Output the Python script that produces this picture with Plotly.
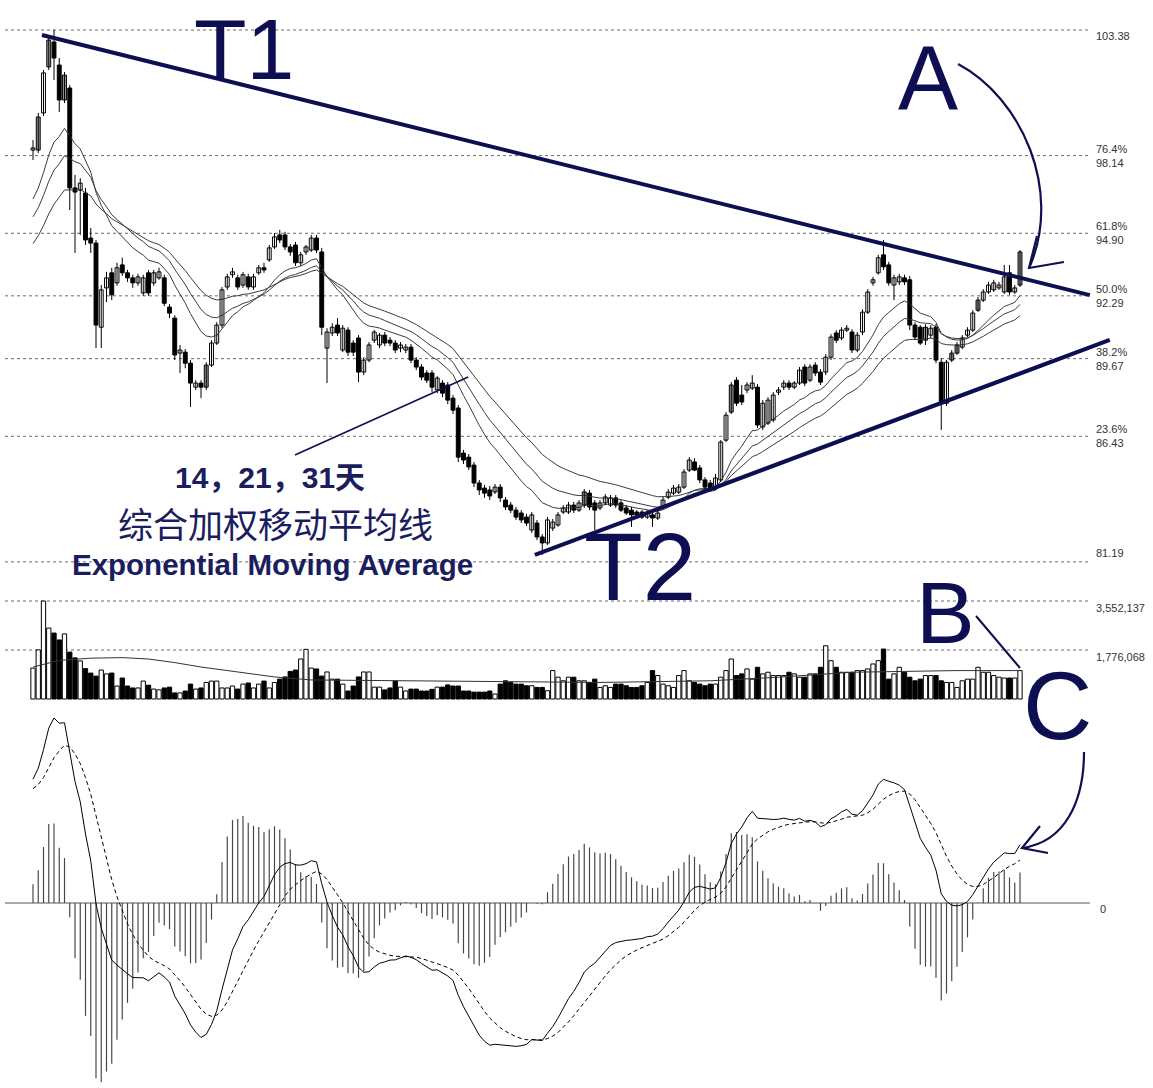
import plotly.graph_objects as go

W, H = 1153, 1088

# ---------------- data ----------------
open_ = [98.37, 98.37, 99.92, 101.84, 102.88, 101.92, 100.46, 100.96, 96.79, 96.70,
         96.58, 94.70, 94.49, 90.98, 92.62, 93.25, 92.83, 93.58, 93.25, 93.04,
         92.83, 92.41, 93.25, 92.83, 93.04, 93.04, 91.82, 91.36, 89.90, 89.94,
         89.48, 88.48, 88.65, 88.48, 89.40, 90.32, 91.07, 92.66, 93.17, 93.04,
         92.74, 93.08, 92.66, 93.25, 93.46, 93.79, 94.33, 94.83, 94.83, 94.33,
         94.41, 93.67, 94.12, 94.20, 94.70, 94.12, 90.11, 90.74, 91.07, 90.03,
         90.86, 90.32, 90.53, 89.11, 89.61, 90.44, 90.24, 90.65, 90.44, 90.32,
         90.11, 90.03, 90.15, 89.61, 89.32, 89.07, 89.07, 88.36, 88.65, 88.57,
         88.02, 87.61, 85.73, 85.56, 85.23, 84.48, 84.27, 84.19, 84.11, 84.31,
         83.77, 83.56, 83.35, 83.23, 83.06, 82.52, 82.81, 82.23, 81.98, 82.60,
         82.73, 83.27, 83.27, 83.56, 83.35, 83.56, 84.06, 83.65, 83.44, 83.65,
         83.56, 83.86, 83.65, 83.44, 83.35, 83.27, 83.27, 83.06, 83.15, 83.02,
         83.48, 83.89, 84.06, 84.10, 84.31, 85.02, 85.36, 85.11, 84.61, 84.48,
         84.31, 84.61, 86.27, 87.44, 88.77, 88.15, 88.36, 88.44, 88.48, 86.82,
         86.98, 87.11, 88.27, 88.48, 88.65, 88.48, 88.65, 89.32, 88.77, 89.40,
         89.11, 89.11, 89.73, 90.74, 90.53, 90.86, 90.78, 90.03, 90.78, 91.61,
         92.83, 93.25, 94.00, 93.58, 92.74, 92.87, 93.04, 92.96, 91.07, 90.98,
         90.44, 90.65, 90.98, 89.52, 87.81, 89.61, 89.90, 90.15, 90.65, 90.86,
         91.69, 92.11, 92.45, 92.54, 92.62, 92.45, 93.25, 92.45, 92.74]

close = [98.46, 99.75, 101.59, 102.96, 102.21, 100.46, 101.50, 96.79, 96.62, 96.99,
         94.62, 94.49, 91.07, 92.54, 93.04, 92.33, 93.46, 93.25, 93.04, 92.83,
         93.08, 93.04, 92.41, 93.25, 93.29, 91.98, 91.57, 89.82, 90.03, 89.48,
         88.65, 88.65, 88.48, 89.40, 90.32, 91.07, 92.54, 93.08, 93.29, 92.66,
         93.17, 92.66, 93.08, 93.46, 93.37, 94.29, 94.75, 94.62, 94.33, 94.12,
         93.67, 94.00, 94.33, 94.70, 94.20, 90.98, 90.78, 90.98, 90.74, 90.94,
         89.94, 89.94, 89.11, 89.61, 90.24, 90.78, 90.65, 90.32, 90.32, 90.03,
         90.24, 90.15, 89.61, 89.32, 88.90, 88.77, 88.48, 88.86, 88.23, 87.94,
         87.52, 85.56, 85.44, 85.15, 84.48, 84.19, 84.06, 83.94, 84.31, 83.86,
         83.48, 83.35, 83.06, 82.94, 82.81, 83.15, 82.23, 81.98, 82.94, 82.85,
         83.15, 83.44, 83.56, 83.35, 83.65, 84.11, 83.48, 83.35, 83.65, 83.90,
         83.86, 83.56, 83.35, 83.23, 83.15, 83.15, 83.06, 83.23, 83.02, 83.23,
         83.77, 84.10, 84.27, 84.31, 84.94, 85.44, 85.02, 84.61, 84.31, 84.27,
         84.69, 86.19, 87.31, 88.57, 87.81, 87.86, 88.57, 88.65, 86.90, 87.81,
         87.94, 88.15, 88.36, 88.65, 88.48, 88.65, 89.19, 88.65, 89.32, 89.07,
         88.69, 89.73, 90.57, 90.44, 90.86, 90.94, 90.03, 90.65, 91.61, 92.45,
         92.96, 93.88, 93.50, 92.83, 93.04, 93.08, 92.87, 91.07, 90.57, 90.32,
         90.98, 90.94, 89.61, 87.81, 89.52, 89.90, 90.24, 90.53, 90.86, 91.57,
         92.11, 92.45, 92.74, 92.83, 92.74, 93.08, 92.45, 92.62, 94.12]

high = [98.79, 99.92, 101.71, 103.17, 103.38, 102.21, 101.63, 101.08, 97.33, 97.20,
        96.79, 95.12, 94.62, 92.74, 93.29, 93.46, 93.67, 93.88, 93.37, 93.17,
        93.21, 93.17, 93.37, 93.37, 93.46, 93.17, 91.94, 91.48, 90.24, 90.07,
        89.61, 88.77, 88.77, 89.52, 90.44, 91.19, 92.66, 93.21, 93.46, 93.17,
        93.29, 93.21, 93.21, 93.58, 93.67, 94.41, 94.91, 95.04, 94.96, 94.45,
        94.54, 94.12, 94.41, 94.83, 94.83, 94.29, 90.94, 91.15, 91.36, 91.07,
        90.98, 90.44, 90.65, 89.73, 90.36, 90.86, 90.74, 90.78, 90.57, 90.44,
        90.36, 90.28, 90.28, 89.73, 89.44, 89.19, 89.19, 88.94, 88.77, 88.69,
        88.15, 87.73, 85.86, 85.69, 85.36, 84.61, 84.40, 84.36, 84.44, 84.44,
        83.90, 83.69, 83.48, 83.35, 83.19, 83.27, 82.94, 82.35, 83.06, 82.98,
        83.27, 83.56, 83.69, 83.69, 83.77, 84.23, 84.19, 83.77, 83.77, 84.02,
        83.98, 83.98, 83.77, 83.56, 83.48, 83.35, 83.35, 83.35, 83.27, 83.35,
        83.90, 84.23, 84.40, 84.44, 85.06, 85.56, 85.52, 85.23, 84.73, 84.61,
        84.86, 86.27, 87.44, 88.69, 88.90, 88.57, 88.69, 88.98, 88.61, 87.94,
        88.06, 88.27, 88.48, 88.77, 88.77, 88.73, 89.32, 89.44, 89.44, 89.52,
        89.23, 89.86, 90.69, 90.86, 90.98, 91.07, 90.90, 90.78, 91.73, 92.57,
        93.08, 94.00, 94.62, 93.71, 93.17, 93.21, 93.17, 93.12, 91.19, 91.07,
        91.11, 91.07, 91.11, 89.69, 89.61, 90.03, 90.36, 90.65, 90.98, 91.69,
        92.24, 92.57, 92.87, 92.96, 92.87, 93.58, 93.58, 92.74, 94.20]

low = [97.96, 98.25, 99.79, 101.71, 101.29, 99.96, 100.33, 95.87, 94.08, 94.83,
       94.41, 94.08, 90.11, 90.11, 92.03, 92.11, 92.71, 93.12, 92.87, 92.62,
       92.71, 92.29, 92.29, 92.71, 92.96, 91.86, 91.36, 89.61, 89.07, 89.27,
       87.65, 88.36, 88.02, 88.36, 89.32, 90.24, 90.94, 92.54, 93.04, 92.54,
       92.62, 92.54, 92.54, 93.17, 93.25, 93.71, 94.25, 94.49, 94.20, 93.96,
       93.54, 93.54, 94.00, 94.12, 94.08, 90.65, 88.65, 90.61, 90.61, 89.94,
       89.78, 89.78, 88.69, 88.98, 89.52, 90.32, 90.11, 90.19, 90.19, 89.90,
       89.94, 89.90, 89.48, 89.19, 88.77, 88.65, 88.27, 88.23, 88.06, 87.77,
       87.36, 85.36, 85.27, 85.02, 84.31, 83.98, 83.86, 83.77, 84.02, 83.69,
       83.35, 83.23, 82.94, 82.81, 82.69, 82.40, 82.10, 81.48, 81.90, 82.48,
       82.65, 83.19, 83.19, 83.23, 83.27, 83.44, 83.35, 82.52, 83.35, 83.56,
       83.48, 83.44, 83.27, 83.15, 82.65, 83.06, 82.98, 82.98, 82.65, 82.94,
       83.40, 83.81, 83.98, 84.02, 84.23, 84.94, 84.98, 84.48, 84.19, 84.15,
       84.19, 84.52, 86.19, 87.36, 87.69, 87.73, 88.23, 88.36, 86.77, 86.69,
       86.90, 87.02, 88.15, 88.36, 88.36, 88.40, 88.57, 88.52, 88.69, 88.94,
       88.57, 88.98, 89.61, 90.32, 90.44, 90.78, 89.90, 89.94, 90.65, 91.53,
       92.71, 93.17, 93.37, 92.71, 92.11, 92.74, 92.74, 90.86, 90.44, 90.24,
       90.24, 90.53, 89.48, 86.69, 87.69, 89.52, 89.82, 90.07, 90.57, 90.78,
       91.61, 92.03, 92.37, 92.45, 92.54, 92.37, 92.33, 92.37, 92.66]

gray_days = [1, 3, 6, 33, 105, 133, 170, 175, 176, 180, 188]

volume_m = [1.12, 1.78, 3.55, 2.57, 2.39, 2.14, 2.36, 1.70, 1.49, 1.38,
            1.10, 0.94, 0.83, 1.05, 0.91, 0.94, 0.47, 0.76, 0.47, 0.40,
            0.40, 0.65, 0.50, 0.36, 0.33, 0.40, 0.43, 0.22, 0.22, 0.29,
            0.54, 0.36, 0.40, 0.60, 0.65, 0.65, 0.40, 0.40, 0.47, 0.36,
            0.54, 0.58, 0.40, 0.54, 0.65, 0.40, 0.60, 0.72, 0.80, 1.00,
            1.05, 1.45, 1.80, 1.12, 1.09, 0.83, 0.98, 0.72, 0.72, 0.54,
            0.29, 0.47, 0.80, 0.98, 0.98, 0.43, 0.43, 0.33, 0.40, 0.65,
            0.43, 0.29, 0.36, 0.36, 0.29, 0.29, 0.35, 0.43, 0.43, 0.51,
            0.47, 0.47, 0.29, 0.29, 0.25, 0.25, 0.25, 0.29, 0.18, 0.54,
            0.66, 0.60, 0.54, 0.54, 0.48, 0.48, 0.42, 0.42, 0.30, 1.03,
            0.79, 0.66, 0.79, 0.79, 0.66, 0.66, 0.60, 0.72, 0.42, 0.48,
            0.42, 0.54, 0.54, 0.48, 0.42, 0.42, 0.48, 0.60, 1.03, 0.85,
            0.54, 0.48, 0.42, 0.85, 1.03, 0.66, 0.60, 0.54, 0.48, 0.54,
            0.54, 0.79, 1.03, 1.45, 0.85, 0.91, 1.09, 0.72, 1.15, 0.91,
            0.97, 0.85, 0.85, 0.85, 0.97, 0.91, 0.79, 0.79, 0.91, 0.91,
            1.15, 1.93, 1.39, 1.15, 0.97, 0.97, 0.97, 1.03, 1.03, 1.09,
            1.27, 1.39, 1.81, 0.72, 0.91, 1.15, 0.97, 0.79, 0.66, 0.72,
            0.85, 0.85, 0.85, 0.66, 0.60, 0.60, 0.42, 0.66, 0.72, 0.72,
            1.15, 0.97, 0.97, 0.85, 0.79, 0.76, 0.76, 0.76, 1.03]

vol_ma_day = [0, 5, 11, 17, 22, 27, 32, 41, 46, 53, 70, 89, 108, 129, 142, 156, 176, 188]
vol_ma_m = [1.16, 1.40, 1.48, 1.50, 1.45, 1.32, 1.16, 0.94, 0.80, 0.69, 0.66, 0.62, 0.60, 0.66, 0.79, 0.97, 1.03, 1.03]

ema_periods = [14, 21, 31]
ema_seeds = [96.0, 95.3, 94.2]          # EMA values just before the first visible day
macd_seeds = [96.2, 94.7, 1.42]         # EMA12, EMA26, DEA before the first visible day

fib_levels = [103.38, 98.14, 94.90, 92.29, 89.67, 86.43, 81.19]
fib_labels = ["103.38", "76.4%<br>98.14", "61.8%<br>94.90", "50.0%<br>92.29",
              "38.2%<br>89.67", "23.6%<br>86.43", "81.19"]
vol_levels = [3552137, 1776068]
vol_labels = ["3,552,137", "1,776,068"]

t1_days, t1_price = [1.7, 201.3], [103.17, 92.32]
t2_days, t2_price = [95.6, 205.1], [81.48, 90.45]
ptr_days, ptr_price = [49.9, 82.9], [85.65, 88.90]

n = len(close)
assert len(open_) == n and len(high) == n and len(low) == n and len(volume_m) == n
days = list(range(n))

# ---------------- derived indicators ----------------
def ema(vals, period, seed):
    a = 2.0 / (period + 1)
    e = seed
    out = []
    for v in vals:
        e += a * (v - e)
        out.append(e)
    return out

ema_lines = [ema(close, p, s) for p, s in zip(ema_periods, ema_seeds)]
e12 = ema(close, 12, macd_seeds[0])
e26 = ema(close, 26, macd_seeds[1])
dif = [a - b for a, b in zip(e12, e26)]
dea = ema(dif, 9, macd_seeds[2])
hist = [2 * (a - b) for a, b in zip(dif, dea)]

# ---------------- layout geometry ----------------
X0, DX = 33.0, 5.25                     # pixel of day 0, pixels per day
x_range = [(0 - X0) / DX, (W - X0) / DX]
def fy(py):
    return 1 - py / H
price_dom = [fy(590), 1.0]
vol_dom = [fy(700), fy(590)]
macd_dom = [0.0, fy(700)]
ppu = 23.97                             # pixels per price unit
price_range = [103.38 - 560 / ppu, 103.38 + 30 / ppu]
vpp = 3552137 / 98.0
vol_range = [-1 * vpp, 109 * vpp]
k = max(dif) / (903 - 718)
macd_range = [-(H - 903) * k, (903 - 700) * k]

NAVY = "#0e0e52"
TXT = "#1b1d5e"
fig = go.Figure()

# EMAs
for line in ema_lines:
    fig.add_trace(go.Scatter(x=days, y=line, mode="lines", line=dict(color="#3c3c3c", width=1),
                             xaxis="x", yaxis="y", hoverinfo="skip"))

# wicks
wx, wy = [], []
for i in days:
    wx += [i, i, None]
    wy += [low[i], high[i], None]
fig.add_trace(go.Scatter(x=wx, y=wy, mode="lines", line=dict(color="#000", width=1),
                         xaxis="x", yaxis="y", hoverinfo="skip"))

# bodies
groups = {"up": ([], [], []), "down": ([], [], []), "gray": ([], [], [])}
for i in days:
    o, c = open_[i], close[i]
    key = "gray" if i in gray_days else ("up" if c >= o else "down")
    g = groups[key]
    g[0].append(i)
    g[1].append(min(o, c))
    g[2].append(max(abs(c - o), 0.04))
fills = {"up": "#ffffff", "down": "#000000", "gray": "#9a9a9a"}
for key, (xs, bs, hs) in groups.items():
    fig.add_trace(go.Bar(x=xs, y=hs, base=bs, width=0.74, marker=dict(color=fills[key], line=dict(color="#000", width=1)),
                         xaxis="x", yaxis="y", hoverinfo="skip"))

# volume
vu_x, vu_y, vd_x, vd_y = [], [], [], []
for i in days:
    if close[i] >= open_[i]:
        vu_x.append(i); vu_y.append(volume_m[i] * 1e6)
    else:
        vd_x.append(i); vd_y.append(volume_m[i] * 1e6)
fig.add_trace(go.Bar(x=vu_x, y=vu_y, width=0.82, marker=dict(color="#fff", line=dict(color="#000", width=1)),
                     xaxis="x2", yaxis="y2", hoverinfo="skip"))
fig.add_trace(go.Bar(x=vd_x, y=vd_y, width=0.82, marker=dict(color="#000", line=dict(color="#000", width=1)),
                     xaxis="x2", yaxis="y2", hoverinfo="skip"))
fig.add_trace(go.Scatter(x=vol_ma_day, y=[v * 1e6 for v in vol_ma_m], mode="lines",
                         line=dict(color="#333", width=1), xaxis="x2", yaxis="y2", hoverinfo="skip"))

# MACD
fig.add_trace(go.Bar(x=days, y=hist, width=0.22, marker=dict(color="#444", line=dict(width=0)),
                     xaxis="x3", yaxis="y3", hoverinfo="skip"))
fig.add_trace(go.Scatter(x=days, y=dif, mode="lines", line=dict(color="#000", width=1),
                         xaxis="x3", yaxis="y3", hoverinfo="skip"))
fig.add_trace(go.Scatter(x=days, y=dea, mode="lines", line=dict(color="#000", width=1, dash="4px,3px"),
                         xaxis="x3", yaxis="y3", hoverinfo="skip"))

shapes = []
grid_x0, grid_x1 = 5 / W, 1090 / W
for lv in fib_levels:
    shapes.append(dict(type="line", xref="paper", yref="y", x0=grid_x0, x1=grid_x1, y0=lv, y1=lv,
                       line=dict(color="#6a6a6a", width=1, dash="3px,3px"), layer="below"))
for lv in vol_levels:
    shapes.append(dict(type="line", xref="paper", yref="y2", x0=grid_x0, x1=grid_x1, y0=lv, y1=lv,
                       line=dict(color="#6a6a6a", width=1, dash="3px,3px"), layer="below"))
shapes.append(dict(type="line", xref="paper", yref="y3", x0=grid_x0, x1=grid_x1, y0=0, y1=0,
                   line=dict(color="#555", width=1), layer="below"))

# trend lines
shapes.append(dict(type="line", xref="x", yref="y", x0=t1_days[0], x1=t1_days[1], y0=t1_price[0], y1=t1_price[1],
                   line=dict(color=NAVY, width=4)))
shapes.append(dict(type="line", xref="x", yref="y", x0=t2_days[0], x1=t2_days[1], y0=t2_price[0], y1=t2_price[1],
                   line=dict(color=NAVY, width=4)))
shapes.append(dict(type="line", xref="x", yref="y", x0=ptr_days[0], x1=ptr_days[1], y0=ptr_price[0], y1=ptr_price[1],
                   line=dict(color=NAVY, width=1.6)))

def ppath(cmds):
    out = []
    for c in cmds:
        if isinstance(c, str):
            out.append(c)
        else:
            out.append("%.5f,%.5f" % (c[0] / W, 1 - c[1] / H))
    return " ".join(out)

arrow_a = ppath(["M", (958, 64), "C", (1022, 98), (1062, 190), (1030, 266)])
head_a = ppath(["M", (1037, 236), "L", (1029, 268), "L", (1064, 262)])
line_b = ppath(["M", (976, 616), "L", (1020, 668)])
arrow_c = ppath(["M", (1084, 752), "C", (1084, 800), (1066, 842), (1022, 848)])
head_c = ppath(["M", (1040, 826), "L", (1022, 848), "L", (1048, 853)])
for p_, w_ in [(arrow_a, 2.2), (head_a, 2.2), (line_b, 2.0), (arrow_c, 2.2), (head_c, 2.2)]:
    shapes.append(dict(type="path", xref="paper", yref="paper", path=p_, line=dict(color=NAVY, width=w_)))

ann = []
lab_font = dict(family="Liberation Sans, Arial, sans-serif", size=11, color="#333")
for lv, tx in zip(fib_levels, fib_labels):
    dy = 0
    if tx == "103.38":
        dy = -6
    if tx == "81.19":
        dy = 9
    ann.append(dict(xref="paper", yref="y", x=1094 / W, y=lv, text=tx, showarrow=False, xanchor="left",
                    yanchor="middle", align="left", font=lab_font, yshift=dy))
for lv, tx in zip(vol_levels, vol_labels):
    ann.append(dict(xref="paper", yref="y2", x=1094 / W, y=lv, text=tx, showarrow=False, xanchor="left",
                    yanchor="middle", font=lab_font, yshift=-7))
ann.append(dict(xref="paper", yref="y3", x=1098 / W, y=0, text="0", showarrow=False, xanchor="left",
                yanchor="middle", font=lab_font, yshift=-6))

big_font = "Liberation Sans, Arial, sans-serif"
for tx, cx, cy, sz, hh in [("T1", 244, 49, 86, 74), ("A", 928, 78, 90, 72), ("T2", 640, 566, 96, 82),
                           ("B", 945, 612, 88, 70), ("C", 1057, 705, 96, 74)]:
    ann.append(dict(xref="paper", yref="paper", x=cx / W, y=1 - cy / H, text=tx, showarrow=False,
                    xanchor="center", yanchor="middle", height=hh, valign="middle",
                    font=dict(family=big_font, size=sz, color=NAVY)))

ann.append(dict(xref="paper", yref="paper", x=270 / W, y=1 - 477 / H, text="<b>14，21，31天</b>", showarrow=False,
                xanchor="center", yanchor="middle",
                font=dict(family="Liberation Sans, Noto Sans CJK SC, sans-serif", size=30, color=TXT)))
ann.append(dict(xref="paper", yref="paper", x=275 / W, y=1 - 522 / H, text="综合加权移动平均线", showarrow=False,
                xanchor="center", yanchor="middle",
                font=dict(family="Noto Sans CJK SC, sans-serif", size=35, color=TXT)))
ann.append(dict(xref="paper", yref="paper", x=272 / W, y=1 - 564 / H, text="<b>Exponential Moving Average</b>",
                showarrow=False, xanchor="center", yanchor="middle",
                font=dict(family="Liberation Sans, Arial, sans-serif", size=29.5, color=TXT)))

ax_common = dict(range=x_range, visible=False, fixedrange=True)
fig.update_layout(
    width=W, height=H, margin=dict(l=0, r=0, t=0, b=0),
    paper_bgcolor="white", plot_bgcolor="white", showlegend=False, barmode="overlay", hovermode=False,
    xaxis=dict(**ax_common, anchor="y", domain=[0, 1]),
    xaxis2=dict(**ax_common, anchor="y2", domain=[0, 1], matches="x"),
    xaxis3=dict(**ax_common, anchor="y3", domain=[0, 1], matches="x"),
    yaxis=dict(domain=price_dom, range=price_range, visible=False, fixedrange=True),
    yaxis2=dict(domain=vol_dom, range=vol_range, visible=False, fixedrange=True),
    yaxis3=dict(domain=macd_dom, range=macd_range, visible=False, fixedrange=True),
    shapes=shapes, annotations=ann,
)

fig.write_html("out.html", config={"displayModeBar": False, "staticPlot": True},
               post_script="document.body.style.margin='0';document.body.style.overflow='hidden';")
